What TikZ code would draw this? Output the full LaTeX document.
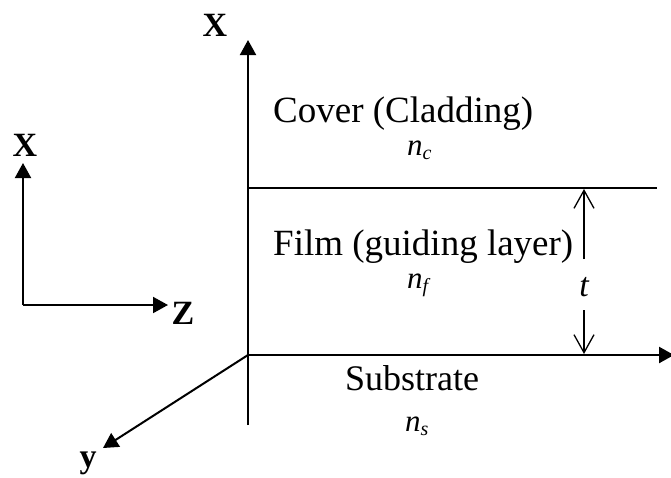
\documentclass[tikz,border=0pt]{standalone}
\usepackage{fontspec}
\setmainfont{Liberation Serif}
\usetikzlibrary{arrows.meta}
\newcommand{\idx}[1]{\textit{n}{\fontsize{20}{20}\selectfont\raisebox{-4pt}{\textit{#1}}}}
\tikzset{
  axis/.style={line width=2pt,-{Triangle[length=15pt,width=16pt]}},
  thin/.style={line width=1.5pt},
  barb/.style={line width=1.3pt,-{Straight Barb[length=18pt,width=20pt,line width=1.3pt]}},
  lab/.style={font=\fontsize{34}{34}\selectfont\bfseries,inner sep=0pt},
  txt/.style={font=\fontsize{37}{37}\selectfont,inner sep=0pt,anchor=base west,text depth=0pt},
  idxs/.style={font=\fontsize{31}{31}\selectfont,inner sep=0pt,anchor=base west}
}
\begin{document}
\begin{tikzpicture}[x=1pt,y=-1pt]
\useasboundingbox (0,0) rectangle (671,477);
% coordinates
\coordinate (O) at (248,355);
\coordinate (vbot) at (248,425);
\coordinate (vtop) at (248,40);
\coordinate (zend) at (674,355);
\coordinate (yend) at (103,448);
\coordinate (fl) at (248,188);
\coordinate (fr) at (657,188);
\coordinate (tA) at (584,259);
\coordinate (tB) at (584,310);
\coordinate (tT) at (584,189);
\coordinate (tBot) at (584,354);
\coordinate (so) at (23,305);
\coordinate (sx) at (23,163);
\coordinate (sz) at (168,305);
% main axes
\draw[axis] (vbot) -- (vtop);
\draw[axis,line width=2.4pt] (O) -- (zend);
\draw[axis] (O) -- (yend);
\draw[thin] (fl) -- (fr);
% thickness arrows
\draw[barb] (tA) -- (tT);
\draw[barb] (tB) -- (tBot);
% small axes
\draw[axis] (so) -- (sx);
\draw[axis] (so) -- (sz);
% labels
\node[lab] (X1) at (215,25) {X};
\node[lab] (X2) at (25,145) {X};
\node[lab] (Z) at (183,313) {Z};
\node[lab] (Y) at (88,463) {y};
\node[txt] (cov) at (273,122) {Cover (Cladding)};
\node[idxs] (nc) at (407,155) {\idx{c}};
\node[txt] (film) at (273,255) {Film (guiding layer)};
\node[idxs] (nf) at (407,288) {\idx{f}};
\node[txt,font=\fontsize{36}{36}\selectfont] (sub) at (345,390) {Substrate};
\node[idxs] (ns) at (405,431) {\idx{s}};
\node[font=\fontsize{34}{34}\selectfont\itshape,inner sep=0pt] (t) at (584,287) {t};
\end{tikzpicture}
\end{document}
